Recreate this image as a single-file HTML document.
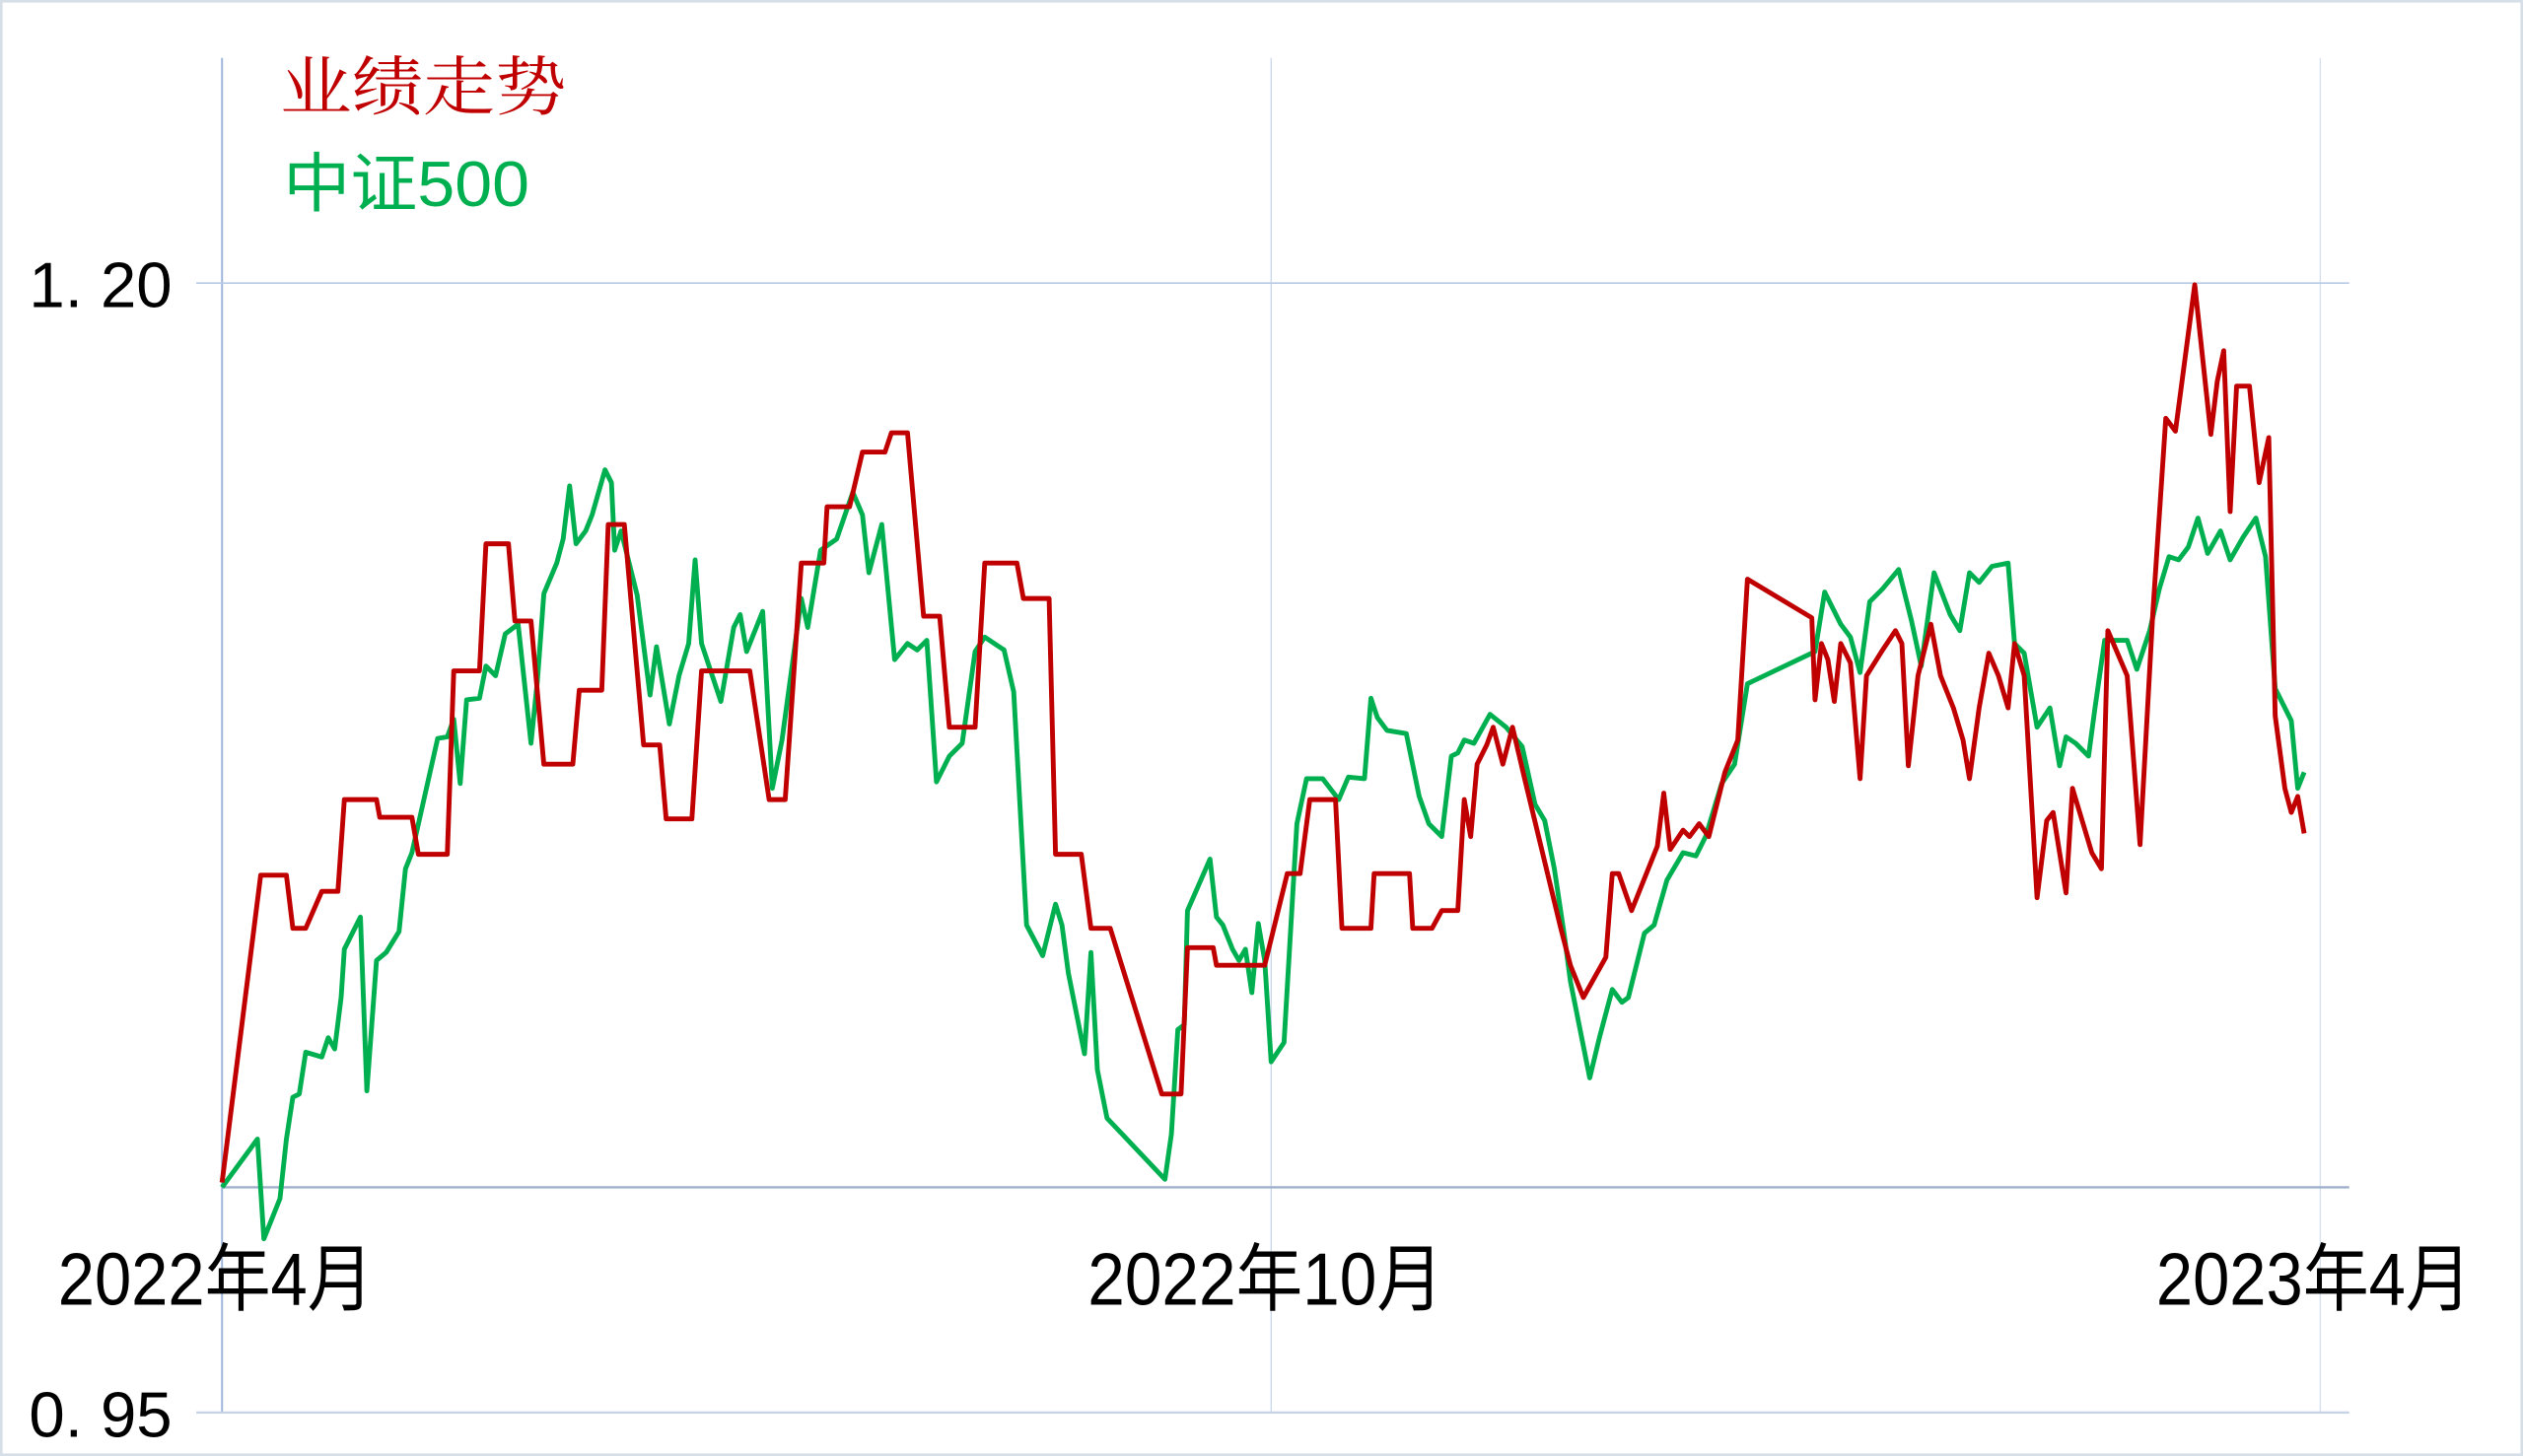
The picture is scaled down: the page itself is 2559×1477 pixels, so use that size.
<!DOCTYPE html>
<html><head><meta charset="utf-8"><style>
html,body{margin:0;padding:0;background:#fff;}
svg{display:block;}
</style></head><body>
<svg width="2559" height="1477" viewBox="0 0 1568 905" preserveAspectRatio="none" xmlns="http://www.w3.org/2000/svg">
<rect x="0" y="0" width="1568" height="905" fill="#fff"/>
<rect x="0.8" y="0.8" width="1566.4" height="903.4" fill="none" stroke="#d6dee8" stroke-width="1.6"/>
<line x1="138" y1="36" x2="138" y2="878" stroke="#9db5da" stroke-width="1.2"/>
<line x1="790" y1="36" x2="790" y2="878" stroke="#c9d7ea" stroke-width="0.8"/>
<line x1="1442" y1="36" x2="1442" y2="878" stroke="#d5e0ee" stroke-width="0.8"/>
<line x1="122" y1="176" x2="1460" y2="176" stroke="#b8cbe6" stroke-width="1"/>
<line x1="138" y1="738" x2="1460" y2="738" stroke="#9fb0cc" stroke-width="1.4"/>
<line x1="122" y1="878" x2="1460" y2="878" stroke="#c6d3e4" stroke-width="1.4"/>
<g font-family="'Liberation Sans','Noto Sans CJK SC',sans-serif" fill="#000">
<text x="18" y="191" font-size="40" textLength="89" lengthAdjust="spacingAndGlyphs">1. 20</text>
<text x="18" y="893" font-size="40" textLength="89" lengthAdjust="spacingAndGlyphs">0. 95</text>
<text x="36" y="811" font-size="46" textLength="196" lengthAdjust="spacingAndGlyphs">2022年4月</text>
<text x="676" y="811" font-size="46" textLength="221" lengthAdjust="spacingAndGlyphs">2022年10月</text>
<text x="1340" y="811" font-size="46" textLength="196" lengthAdjust="spacingAndGlyphs">2023年4月</text>
</g>
<text x="174" y="68" font-size="40" fill="#c00000" font-family="'Liberation Serif','Noto Serif CJK SC',serif" textLength="178" lengthAdjust="spacingAndGlyphs">业绩走势</text>
<text x="176" y="128" font-size="40" fill="#00b050" font-family="'Liberation Sans','Noto Sans CJK SC',sans-serif" textLength="153" lengthAdjust="spacingAndGlyphs">中证500</text>
<polyline fill="none" stroke="#00b050" stroke-width="3" stroke-linejoin="round" points="138,738 160,708 164,770 174,745 178,708 182,682 186,680 190,654 200,657 204,645 208,652 212,620 214,590 224,570 228,678 234,597 240,592 248,579 252,540 256,530 272,459 278,458 282,447 286,487 290,435 298,434 302,414 308,420 314,394 322,388 330,462 334,423 338,369 346,350 350,335 354,302 358,338 364,330 368,320 376,292 380,300 382,342 386,330 396,370 404,432 408,402 416,450 422,420 428,400 432,348 436,400 448,436 456,390 460,382 464,405 470,390 474,380 480,490 486,460 498,372 502,390 510,342 520,335 530,306 536,320 540,356 548,326 556,410 564,400 570,404 576,398 582,486 590,470 598,462 606,405 612,396 624,404 630,430 638,575 648,594 656,562 660,575 664,605 674,655 678,592 682,665 688,695 724,733 728,705 732,640 736,637 738,566 752,534 756,570 760,575 766,590 770,597 774,590 778,617 782,574 786,597 790,660 798,648 806,512 812,484 822,484 832,497 838,483 848,484 852,434 856,446 862,454 874,456 882,495 888,512 896,520 902,470 906,468 910,460 916,462 926,444 936,452 946,464 954,500 960,510 966,540 972,580 976,610 982,640 988,670 994,645 1002,615 1008,623 1012,620 1022,580 1028,575 1036,547 1046,530 1054,532 1060,520 1070,487 1078,475 1086,425 1128,405 1134,368 1144,388 1150,396 1156,418 1162,374 1170,366 1180,354 1188,386 1194,414 1202,356 1212,382 1218,392 1224,356 1230,362 1238,352 1248,350 1252,400 1258,406 1266,452 1274,440 1280,476 1284,458 1290,462 1298,470 1302,440 1308,398 1322,398 1328,416 1336,392 1342,366 1348,346 1354,348 1360,340 1366,322 1372,344 1380,330 1386,348 1394,334 1402,322 1408,346 1414,428 1424,448 1428,490 1432,480"/>
<polyline fill="none" stroke="#c00000" stroke-width="3" stroke-linejoin="round" points="138,735 162,544 178,544 182,577 190,577 200,554 210,554 214,497 234,497 236,508 256,508 260,531 278,531 282,417 298,417 302,338 316,338 320,386 330,386 338,475 356,475 360,429 374,429 378,326 388,326 400,463 410,463 414,509 430,509 436,417 466,417 478,497 488,497 498,350 512,350 514,315 528,315 536,281 550,281 554,269 564,269 574,383 584,383 590,452 606,452 612,350 632,350 636,372 652,372 656,531 672,531 678,577 690,577 722,680 734,680 738,589 754,589 756,600 786,600 800,543 808,543 814,497 830,497 834,577 852,577 854,543 876,543 878,577 890,577 896,566 906,566 910,497 914,520 918,475 924,463 928,452 934,475 940,452 948,486 970,577 976,600 984,620 998,595 1002,543 1006,543 1014,566 1030,526 1034,493 1038,528 1046,516 1050,520 1056,512 1062,520 1072,480 1080,460 1086,360 1126,384 1128,435 1132,400 1136,410 1140,436 1144,400 1150,412 1156,484 1160,420 1170,404 1178,392 1182,400 1186,476 1192,420 1200,388 1206,420 1214,440 1220,460 1224,484 1230,440 1236,406 1242,420 1248,440 1252,400 1258,420 1266,558 1272,510 1276,505 1280,530 1284,555 1288,490 1300,530 1306,540 1310,392 1322,420 1330,525 1338,380 1346,260 1352,268 1364,177 1374,270 1378,237 1382,218 1386,318 1390,240 1398,240 1404,300 1410,272 1414,445 1420,490 1424,505 1428,495 1432,518"/>
</svg>
</body></html>
